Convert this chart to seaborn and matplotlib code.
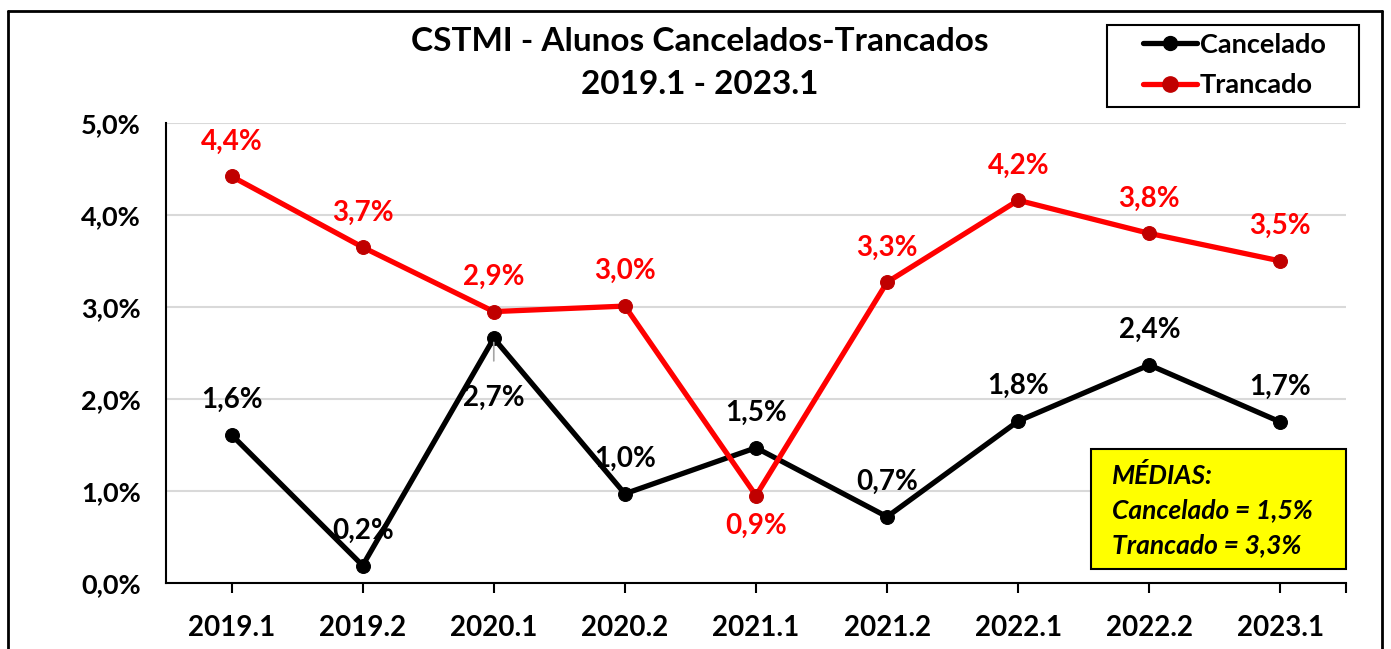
import matplotlib
matplotlib.use("Agg")
import matplotlib.pyplot as plt
import seaborn as sns
import pandas as pd
from matplotlib.lines import Line2D
from matplotlib.patches import Rectangle

semestres = ["2019.1", "2019.2", "2020.1", "2020.2", "2021.1", "2021.2", "2022.1", "2022.2", "2023.1"]
cancelado = [1.61, 0.19, 2.66, 0.97, 1.47, 0.72, 1.76, 2.37, 1.75]
trancado = [4.42, 3.65, 2.95, 3.01, 0.95, 3.27, 4.16, 3.80, 3.50]
cancelado_labels = ["1,6%", "0,2%", "2,7%", "1,0%", "1,5%", "0,7%", "1,8%", "2,4%", "1,7%"]
trancado_labels = ["4,4%", "3,7%", "2,9%", "3,0%", "0,9%", "3,3%", "4,2%", "3,8%", "3,5%"]
yticks = [0, 1, 2, 3, 4, 5]
ytick_labels = ["0,0%", "1,0%", "2,0%", "3,0%", "4,0%", "5,0%"]
title = "CSTMI - Alunos Cancelados-Trancados\n2019.1 - 2023.1"
medias_text = "MÉDIAS:\nCancelado = 1,5%\nTrancado = 3,3%"

sns.set_theme(style="white")
plt.rcParams['font.family'] = ['Lato', 'DejaVu Sans']
plt.rcParams['text.color'] = 'black'
plt.rcParams['xtick.color'] = 'black'
plt.rcParams['ytick.color'] = 'black'
plt.rcParams['axes.labelcolor'] = 'black'

W, H = 1391, 649
fig = plt.figure(figsize=(W / 100, H / 100), dpi=100)
ax = fig.add_axes([166 / W, 1 - 583 / H, (1346 - 166) / W, (583 - 123) / H])

df = pd.DataFrame({
    "semestre": list(range(len(semestres))) * 2,
    "valor": cancelado + trancado,
    "serie": ["Cancelado"] * len(semestres) + ["Trancado"] * len(semestres),
})
palette = {"Cancelado": "#000000", "Trancado": "#FF0000"}
sns.lineplot(data=df, x="semestre", y="valor", hue="serie", palette=palette,
             marker="o", markersize=10, linewidth=3.8, ax=ax, legend=False, zorder=3)
mfc = {"Cancelado": "#000000", "Trancado": "#C00000"}
for line, name in zip(ax.get_lines(), ["Cancelado", "Trancado"]):
    line.set_markerfacecolor(mfc[name])
    line.set_markeredgecolor(mfc[name])

FS = 20
ax.set_xlim(-0.5, len(semestres) - 0.5)
ax.set_ylim(0, 5)
ax.set_yticks(yticks)
ax.set_yticklabels(ytick_labels, fontsize=19.5, fontweight="bold")
ax.set_xticks(range(len(semestres)))
ax.set_xticklabels(semestres, fontsize=FS, fontweight="bold")
ax.set_xticks([len(semestres) - 0.5], minor=True)
ax.tick_params(axis="x", which="both", direction="out", length=7, width=1.5, color="black",
               bottom=True, pad=16)
ax.tick_params(axis="y", length=0, pad=18)
ax.set_xlabel("")
ax.set_ylabel("")
ax.grid(axis="y", color="#D9D9D9", linewidth=1.5)
ax.set_axisbelow(True)
for s in ["top", "right"]:
    ax.spines[s].set_visible(False)
for s in ["left", "bottom"]:
    ax.spines[s].set_color("black")
    ax.spines[s].set_linewidth(1.5)

# data labels
for i, (v, lab) in enumerate(zip(trancado, trancado_labels)):
    off = 25 if i != 4 else -22
    ax.annotate(lab, (i, v), xytext=(0, off), textcoords="offset points",
                ha="center", va="center", color="#FF0000", fontsize=FS, fontweight="bold")
for i, (v, lab) in enumerate(zip(cancelado, cancelado_labels)):
    if i == 2:
        ax.annotate(lab, (i, v), xytext=(0, -43), textcoords="offset points",
                    ha="center", va="center", color="black", fontsize=FS, fontweight="bold",
                    arrowprops=dict(arrowstyle="-", color="#A6A6A6", lw=1.2,
                                    shrinkA=15, shrinkB=3))
    else:
        ax.annotate(lab, (i, v), xytext=(0, 25), textcoords="offset points",
                    ha="center", va="center", color="black", fontsize=FS, fontweight="bold")

# title
fig.text(700 / W, 1 - 63 / H, title, ha="center", va="center", fontsize=24,
         fontweight="bold", linespacing=1.55)

# legend (frame drawn separately)
handles = [
    Line2D([], [], color="#000000", lw=3.8, marker="o", markersize=10,
           markerfacecolor="#000000", markeredgecolor="#000000"),
    Line2D([], [], color="#FF0000", lw=3.8, marker="o", markersize=11,
           markerfacecolor="#C00000", markeredgecolor="#C00000"),
]
leg = fig.legend(handles, ["Cancelado", "Trancado"], loc="center left",
                 bbox_to_anchor=(1143 / W, 1 - 65 / H), frameon=False,
                 prop={"size": 19.5, "weight": "bold"}, handlelength=2.0, handletextpad=0.1,
                 borderpad=0, labelspacing=0.62, borderaxespad=0)
fig.add_artist(Rectangle((1107 / W, 1 - 107 / H), (1359 - 1107) / W, (107 - 25) / H,
                         transform=fig.transFigure, facecolor="none", edgecolor="black",
                         linewidth=1.5))

# medias box
box = Rectangle((1091 / W, 1 - 569 / H), (1346 - 1091) / W, (569 - 449) / H,
                transform=fig.transFigure, facecolor="#FFFF00", edgecolor="black",
                linewidth=1.5, zorder=5)
fig.add_artist(box)
fig.text(1112 / W, 1 - 510 / H, medias_text, ha="left", va="center", fontsize=19,
         fontweight="bold", fontstyle="italic", linespacing=1.52, zorder=6)

# outer frame
for xs, ys in [((8 / W, 8 / W), (0, 1 - 11 / H)),
               ((8 / W, 1382 / W), (1 - 11 / H, 1 - 11 / H)),
               ((1382 / W, 1382 / W), (0, 1 - 11 / H))]:
    fig.add_artist(Line2D(xs, ys, transform=fig.transFigure, color="black", lw=2))

fig.savefig("out.png", dpi=100)
